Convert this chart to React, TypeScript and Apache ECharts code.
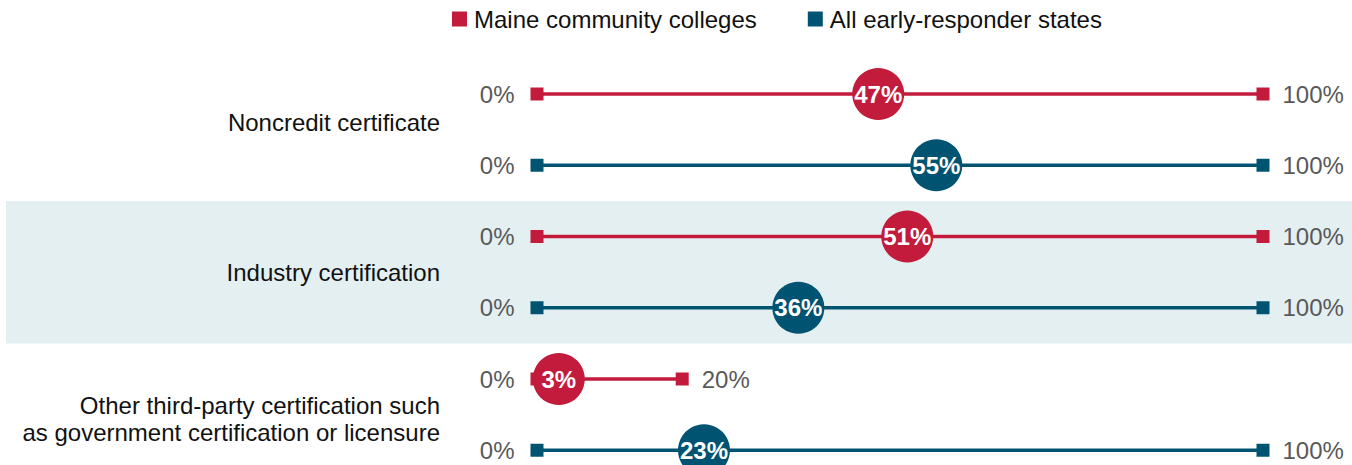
import React, { useEffect, useRef } from 'react';
import * as echarts from 'echarts';

const categories = [
  'Noncredit certificate',
  'Industry certification',
  'Other third-party certification such\nas government certification or licensure',
];
const seriesNames = ['Maine community colleges', 'All early-responder states'];
const maineValues = [47, 51, 3];
const allStatesValues = [55, 36, 23];
const maineScaleMax = [100, 100, 20];
const allStatesScaleMax = [100, 100, 100];
const scaleMin = [0, 0, 0];

const RED = '#c21b3b';
const TEAL = '#005471';
const BAND = '#e4eff2';
const FONT = "'Liberation Sans', Arial, sans-serif";
const labelOffsets = [-7, 0, 4];

export default function App() {
  const ref = useRef<HTMLDivElement>(null);

  useEffect(() => {
    if (!ref.current) return;
    const chart = echarts.init(ref.current, undefined, { renderer: 'svg' });

    const groups = [
      { name: seriesNames[0], color: RED, values: maineValues, max: maineScaleMax },
      { name: seriesNames[1], color: TEAL, values: allStatesValues, max: allStatesScaleMax },
    ];

    const rowCount = categories.length * groups.length;

    const series: any[] = [];

    // background band (second category) in a full-width grid
    series.push({
      type: 'line',
      xAxisIndex: 1,
      yAxisIndex: 1,
      data: [],
      silent: true,
      markArea: {
        silent: true,
        itemStyle: { color: BAND },
        data: categories
          .map((_c, ci) => ci)
          .filter((ci) => ci % 2 === 1)
          .map((ci) => [
            { xAxis: 0, yAxis: ci * 2 - 0.5 },
            { xAxis: 1, yAxis: ci * 2 + 1.5 },
          ]),
      },
    });

    // category labels
    series.push({
      type: 'scatter',
      xAxisIndex: 0,
      yAxisIndex: 0,
      symbolSize: 0,
      silent: true,
      clip: false,
      z: 1,
      itemStyle: { opacity: 1, color: '#111111' },
      label: {
        show: true,
        position: 'left',
        distance: 97,
        align: 'right',
        fontSize: 24,
        lineHeight: 27,
        color: '#111111',
        opacity: 1,
        fontFamily: FONT,
        formatter: (p: any) => categories[p.dataIndex],
      },
      data: categories.map((_c, ci) => ({
        value: [0, ci * 2 + 0.5],
        label: { offset: [0, labelOffsets[ci]] },
      })),
    });

    categories.forEach((_c, ci) => {
      groups.forEach((g, gi) => {
        const row = ci * 2 + gi;
        series.push({
          type: 'line',
          name: g.name,
          xAxisIndex: 0,
          yAxisIndex: 0,
          clip: false,
          symbol: 'rect',
          symbolSize: 13,
          showAllSymbol: true,
          lineStyle: { color: g.color, width: 3.5 },
          itemStyle: { color: g.color },
          emphasis: { disabled: true },
          silent: true,
          z: 2,
          label: {
            show: true,
            formatter: (p: any) => p.value[0] + '%',
            fontSize: 24,
            color: '#595959',
            fontFamily: FONT,
          },
          data: [
            { value: [scaleMin[ci], row], label: { position: 'left', distance: 16 } },
            { value: [g.max[ci], row], label: { position: 'right', distance: 13 } },
          ],
        });
        series.push({
          type: 'scatter',
          name: g.name,
          xAxisIndex: 0,
          yAxisIndex: 0,
          clip: false,
          symbol: 'circle',
          symbolSize: 52,
          itemStyle: { color: g.color, opacity: 1 },
          emphasis: { disabled: true },
          silent: true,
          z: 3,
          label: {
            show: true,
            position: 'inside',
            formatter: (p: any) => p.value[0] + '%',
            color: '#ffffff',
            fontWeight: 'bold',
            fontSize: 24,
            fontFamily: FONT,
          },
          data: [[g.values[ci], row]],
        });
      });
    });

    const gridTop = 94;
    const gridBottom = 14.75;

    chart.setOption({
      animation: false,
      textStyle: { fontFamily: FONT },
      legend: {
        left: 452,
        top: 7,
        padding: 0,
        itemWidth: 15,
        itemHeight: 15,
        itemGap: 51,
        selectedMode: false,
        textStyle: { fontSize: 24, color: '#111111', fontFamily: FONT, padding: [0, 0, 0, 2] },
        data: [
          { name: seriesNames[0], icon: 'rect', itemStyle: { color: RED } },
          { name: seriesNames[1], icon: 'rect', itemStyle: { color: TEAL } },
        ],
      },
      grid: [
        { left: 537, width: 726, top: gridTop, bottom: gridBottom },
        { left: 6, right: 0, top: gridTop, bottom: gridBottom },
      ],
      xAxis: [
        { type: 'value', gridIndex: 0, min: 0, max: 100, show: false },
        { type: 'value', gridIndex: 1, min: 0, max: 1, show: false },
      ],
      yAxis: [
        { type: 'value', gridIndex: 0, min: 0, max: rowCount - 1, inverse: true, show: false },
        { type: 'value', gridIndex: 1, min: 0, max: rowCount - 1, inverse: true, show: false },
      ],
      series,
    });

    return () => {
      chart.dispose();
    };
  }, []);

  return (
    <div
      ref={ref}
      style={{ position: 'absolute', left: 0, top: 0, width: 1352, height: 465 }}
    />
  );
}
